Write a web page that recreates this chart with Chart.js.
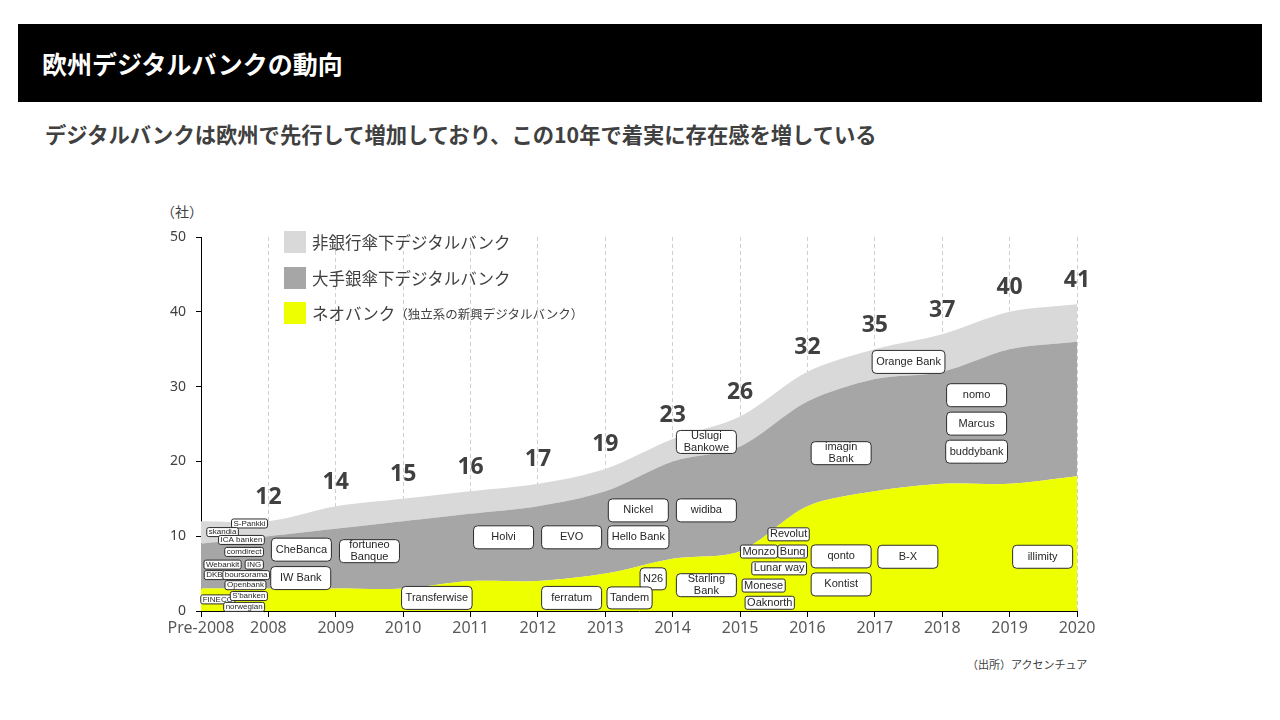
<!DOCTYPE html>
<html lang="ja">
<head>
<meta charset="utf-8">
<title>欧州デジタルバンクの動向</title>
<script src="https://cdn.jsdelivr.net/npm/chart.js@4.4.1/dist/chart.umd.min.js"></script>
<style>
    html, body { margin: 0; padding: 0; background: #fff; }
    body {
        width: 1280px; height: 720px; position: relative; overflow: hidden;
        font-family: "Noto Sans CJK JP", sans-serif; color: #404040;
    }
    .title-bar { position: absolute; left: 18px; top: 24px; width: 1244px; height: 78px; background: #000; }
    .title-bar h1 {
        margin: 0; position: absolute; left: 24px; top: 0; line-height: 78px;
        font-size: 25px; font-weight: 700; color: #fff;
    }
    .subtitle { position: absolute; left: 45px; top: 119px; font-size: 21.3px; font-weight: 700; line-height: 30px; }
    .unit { position: absolute; left: 161px; top: 202px; font-size: 14px; line-height: 18px; }
    .legend { position: absolute; left: 284px; top: 231px; z-index: 2; }
    .legend-row { display: flex; align-items: center; height: 22px; margin-bottom: 13.5px; font-size: 16.5px; }
    .swatch { width: 22px; height: 22px; margin-right: 6px; }
    .note { font-size: 12.5px; }
    .source { position: absolute; left: 967px; top: 656px; font-size: 11px; line-height: 16px; }
    #bankChart { position: absolute; left: 0; top: 0; z-index: 1; }
</style>
</head>
<body>
<div class="title-bar"><h1>欧州デジタルバンクの動向</h1></div>
<div class="subtitle">デジタルバンクは欧州で先行して増加しており、この10年で着実に存在感を増している</div>
<div class="unit">（社）</div>
<canvas id="bankChart" width="1280" height="720"></canvas>
<div class="legend">
    <div class="legend-row"><div class="swatch" style="background:#d9d9d9"></div>非銀行傘下デジタルバンク</div>
    <div class="legend-row"><div class="swatch" style="background:#a6a6a6"></div>大手銀傘下デジタルバンク</div>
    <div class="legend-row"><div class="swatch" style="background:#eeff00"></div>ネオバンク<span class="note">（独立系の新興デジタルバンク）</span></div>
</div>
<div class="source">（出所）アクセンチュア</div>

<script>
// categories (x axis) and the three stacked series
const categories = ['Pre-2008', '2008', '2009', '2010', '2011', '2012', '2013',
                    '2014', '2015', '2016', '2017', '2018', '2019', '2020'];
const neoBanks         = [3, 3, 3, 3, 4, 4, 5, 7, 8, 14, 16, 17, 17, 18];
const majorBankDigital = [6, 7, 8, 9, 9, 10, 11, 13, 14, 14, 15, 15, 18, 18];
const nonBankDigital   = [3, 2, 3, 3, 3, 3, 3, 3, 4, 4, 4, 5, 5, 5];

const yTicks = [0, 10, 20, 30, 40, 50];

// bank name tags: [name, category position, value]
const bankTags = [
    ['CheBanca', 1.49, 8.2], ['IW Bank', 1.48, 4.4], ['fortuneo\nBanque', 2.5, 8.0],
    ['Transferwise', 3.5, 1.75], ['Holvi', 4.49, 9.85], ['EVO', 5.5, 9.85],
    ['ferratum', 5.5, 1.75], ['Nickel', 6.49, 13.45], ['Hello Bank', 6.49, 9.85],
    ['widiba', 7.5, 13.45], ['Uslugi\nBankowe', 7.5, 22.6], ['Starling\nBank', 7.5, 3.45],
    ['imagin\nBank', 9.5, 21.1], ['qonto', 9.5, 7.3], ['Kontist', 9.5, 3.55],
    ['Orange Bank', 10.5, 33.3], ['B-X', 10.49, 7.25], ['nomo', 11.51, 28.85],
    ['Marcus', 11.51, 25.05], ['buddybank', 11.51, 21.3], ['illimity', 12.49, 7.25]
];
const narrowBankTags = [['N26', 6.71, 4.3], ['Tandem', 6.36, 1.75]];
const smallBankTags = [
    ['Revolut', 8.72, 10.25], ['Monzo', 8.28, 7.95], ['Bunq', 8.78, 7.95],
    ['Lunar way', 8.58, 5.7], ['Monese', 8.35, 3.4], ['Oaknorth', 8.44, 1.1]
];
const tinyBankTags = [
    ['S-Pankki', 0.72, 11.7], ['skandia', 0.32, 10.55], ['ICA banken', 0.6, 9.5],
    ['comdirect', 0.64, 7.9], ['Webankit', 0.32, 6.2], ['ING', 0.79, 6.2],
    ['DKB', 0.2, 4.8], ['boursorama', 0.67, 4.8], ['Openbank', 0.66, 3.45],
    ['FINECO', 0.25, 1.55], ["S'banken", 0.71, 2.0], ['norwegian', 0.64, 0.55]
];

document.addEventListener('DOMContentLoaded', () => {
    const canvas = document.getElementById('bankChart');

//********************************************************************************
///Helpers for the name tags
//********************************************************************************
    function roundedBox(ctx, x, y, w, h, r) {
        ctx.beginPath();
        ctx.moveTo(x + r, y);
        ctx.lineTo(x + w - r, y);
        ctx.arcTo(x + w, y, x + w, y + r, r);
        ctx.lineTo(x + w, y + h - r);
        ctx.arcTo(x + w, y + h, x + w - r, y + h, r);
        ctx.lineTo(x + r, y + h);
        ctx.arcTo(x, y + h, x, y + h - r, r);
        ctx.lineTo(x, y + r);
        ctx.arcTo(x, y, x + r, y, r);
        ctx.closePath();
    }

    function drawTags(chart, tags, fontSize, minWidth, height, radius, pad) {
        const { ctx, scales: { x, y } } = chart;
        ctx.save();
        ctx.font = fontSize + 'px "Liberation Sans", Arial, sans-serif';
        ctx.textAlign = 'center';
        ctx.textBaseline = 'middle';
        tags.forEach(([name, pos, value]) => {
            const lines = name.split('\n');
            const textW = Math.max(...lines.map(l => ctx.measureText(l).width));
            const w = Math.max(minWidth, textW + pad);
            const cx = x.getPixelForValue(pos);
            const cy = y.getPixelForValue(value);
            roundedBox(ctx, cx - w / 2, cy - height / 2, w, height, radius);
            ctx.fillStyle = '#fff';
            ctx.fill();
            ctx.lineWidth = 1;
            ctx.strokeStyle = '#2b2b2b';
            ctx.stroke();
            ctx.fillStyle = '#262626';
            const lineH = fontSize + 1;
            lines.forEach((l, i) => {
                ctx.fillText(l, cx, cy + (i - (lines.length - 1) / 2) * lineH);
            });
        });
        ctx.restore();
    }

    const tagPlugin = {
        id: 'tagPlugin',
        afterDraw(chart) {
            const { ctx, scales: { x, y } } = chart;

            // totals above each year (Pre-2008 has none)
            ctx.save();
            ctx.font = 'bold 23px "Noto Sans", sans-serif';
            ctx.fillStyle = '#404040';
            ctx.textAlign = 'center';
            ctx.textBaseline = 'middle';
            categories.forEach((cat, i) => {
                if (i === 0) return;
                const total = neoBanks[i] + majorBankDigital[i] + nonBankDigital[i];
                ctx.fillText(String(total), x.getPixelForValue(i), y.getPixelForValue(total) - 24);
            });
            ctx.restore();

            drawTags(chart, bankTags, 11, 60, 23, 4, 8);
            drawTags(chart, narrowBankTags, 11, 0, 22, 4, 6);
            drawTags(chart, smallBankTags, 11, 0, 13, 2, 4);
            drawTags(chart, tinyBankTags, 8, 0, 9, 2, 4);
        }
    };

//********************************************************************************
///Stacked area chart
//********************************************************************************
    const chart = new Chart(canvas, {
        type: 'line',
        data: {
            labels: categories,
            datasets: [
                { label: 'ネオバンク', data: neoBanks, backgroundColor: '#eeff00', fill: 'origin' },
                { label: '大手銀傘下デジタルバンク', data: majorBankDigital, backgroundColor: '#a6a6a6', fill: '-1' },
                { label: '非銀行傘下デジタルバンク', data: nonBankDigital, backgroundColor: '#d9d9d9', fill: '-1' }
            ]
        },
        options: {
            responsive: false,
            animation: false,
            layout: { padding: { left: 0, top: 237, right: 203, bottom: 69 } },
            elements: {
                line: { tension: 0.3, borderWidth: 0 },
                point: { radius: 0 }
            },
            plugins: {
                legend: { display: false },
                tooltip: { enabled: false }
            },
            scales: {
                x: {
                    offset: false,
                    z: 1,
                    grid: { color: '#cfcfcf', tickColor: '#000', tickLength: 6, lineWidth: 1 },
                    border: { color: '#000', dash: [4, 3] },
                    ticks: {
                        color: '#595959',
                        font: { family: 'Noto Sans', size: 16 },
                        padding: 2,
                        maxRotation: 0,
                        autoSkip: false
                    },
                    afterFit: scale => { scale.height = 40; }
                },
                y: {
                    stacked: true,
                    min: 0,
                    max: 50,
                    z: 2,
                    afterBuildTicks: scale => { scale.ticks = yTicks.map(v => ({ value: v })); },
                    ticks: {
                        color: '#404040',
                        font: { family: 'Noto Sans', size: 14 },
                        padding: 10
                    },
                    grid: { drawOnChartArea: false, color: '#000', tickLength: 5 },
                    border: { color: '#000' },
                    afterFit: scale => { scale.width = 201; }
                }
            }
        },
        plugins: [tagPlugin]
    });
});
</script>
</body>
</html>
